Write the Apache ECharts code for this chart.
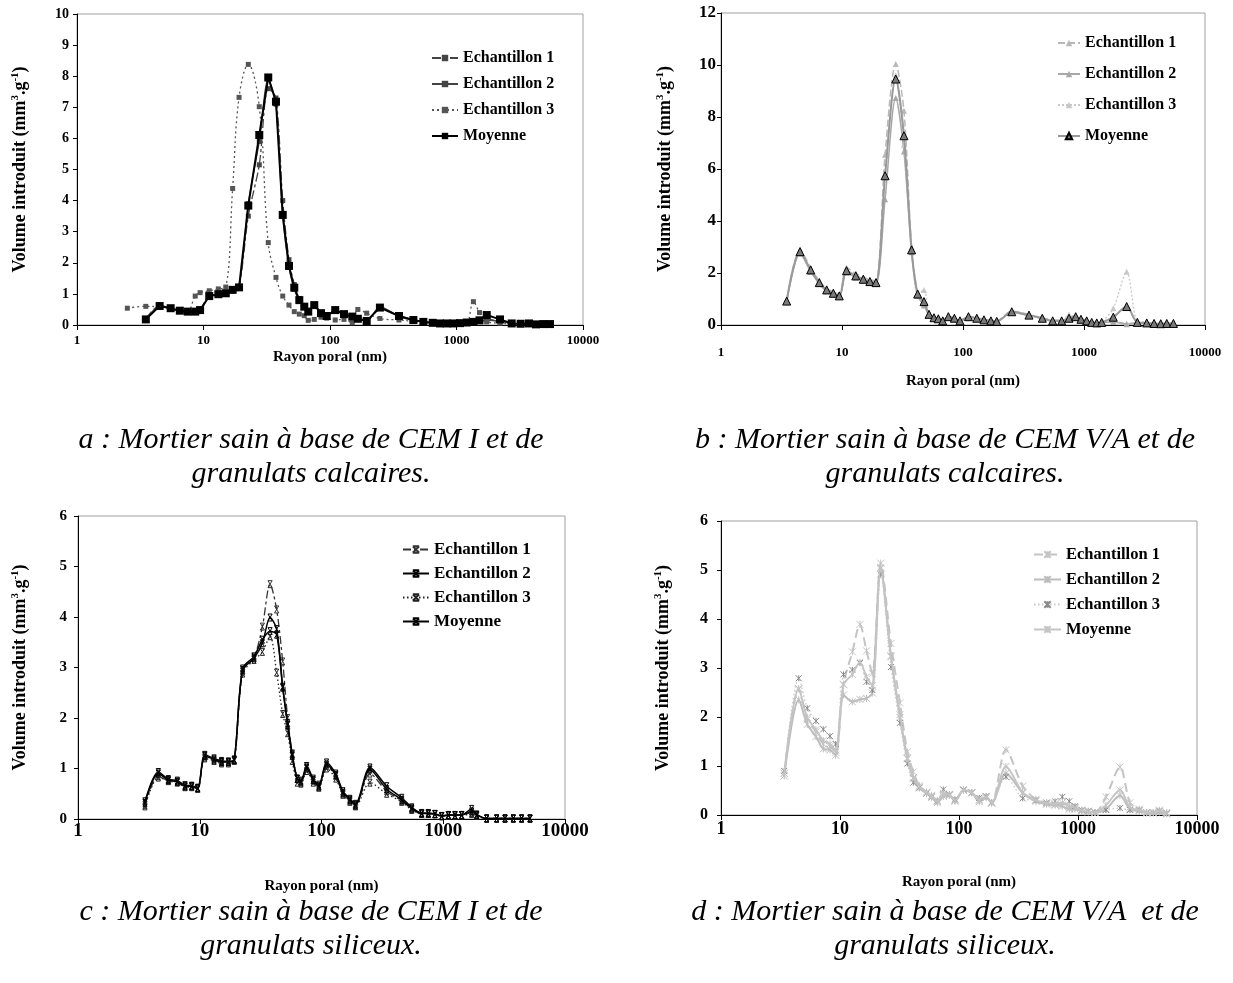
<!DOCTYPE html>
<html><head><meta charset="utf-8">
<script src="https://cdn.jsdelivr.net/npm/echarts@6/dist/echarts.min.js"></script>
<style>html,body{margin:0;padding:0;background:#fff}#c{width:1233px;height:983px}</style>
</head><body><div id="c"></div>
<script>
// ---------- DATA ----------
const seriesNames = ['Echantillon 1', 'Echantillon 2', 'Echantillon 3', 'Moyenne'];
const xTickLabels = ['1', '10', '100', '1000', '10000'];
const xTitle = 'Rayon poral (nm)';
const captions = [
  'a : Mortier sain à base de CEM I et de\ngranulats calcaires.',
  'b : Mortier sain à base de CEM V/A et de\ngranulats calcaires.',
  'c : Mortier sain à base de CEM I et de\ngranulats siliceux.',
  'd : Mortier sain à base de CEM V/A  et de\ngranulats siliceux.'
];

// Panel a (CEM I, calcaires)
const a_r = [2.5, 3.5, 4.5, 5.5, 6.5, 7.5, 8.6, 9.4, 11.1, 13.1, 15.0, 17.0, 19.1, 22.6, 27.6, 32.5, 37.4, 42.3, 47.4, 52.2, 57.2, 62.6, 67.3, 75.1, 84.9, 94.2, 110, 129, 150, 166, 195, 248, 351, 456, 547, 649, 741, 837, 944, 1066, 1205, 1360, 1520, 1734, 2208, 2731, 3214, 3740, 4249, 4853, 5483];
const a_e1 = [null, 0.2, 0.62, 0.55, 0.48, 0.44, 0.44, 0.5, 0.95, 1.0, 1.04, 1.14, 1.22, 3.5, 5.15, 7.6, 7.3, 4.0, 2.1, 1.3, 0.85, 0.62, 0.45, 0.6, 0.4, 0.3, 0.45, 0.36, 0.28, 0.22, 0.15, 0.55, 0.3, 0.17, 0.11, 0.08, 0.06, 0.06, 0.06, 0.07, 0.08, 0.1, 0.18, 0.2, 0.1, 0.05, 0.04, 0.05, 0.02, 0.03, 0.03];
const a_e2 = [null, 0.16, 0.6, 0.52, 0.45, 0.42, 0.43, 0.46, 0.9, 0.97, 1.0, 1.1, 1.2, 3.9, 5.9, 7.9, 7.1, 3.5, 1.85, 1.15, 0.78, 0.57, 0.42, 0.66, 0.37, 0.28, 0.5, 0.34, 0.26, 0.19, 0.12, 0.58, 0.28, 0.15, 0.1, 0.07, 0.05, 0.05, 0.05, 0.06, 0.08, 0.1, 0.12, 0.15, 0.12, 0.05, 0.04, 0.05, 0.02, 0.03, 0.03];
const a_e3 = [0.54, 0.6, 0.58, 0.5, 0.44, 0.45, 0.93, 1.04, 1.1, 1.16, 1.22, 4.39, 7.32, 8.38, 7.02, 2.65, 1.53, 0.93, 0.64, 0.43, 0.35, 0.3, 0.15, 0.18, 0.25, 0.22, 0.16, 0.18, 0.07, 0.5, 0.38, 0.21, 0.16, 0.12, 0.08, 0.06, 0.05, 0.05, 0.05, 0.06, 0.08, 0.75, 0.4, 0.1, 0.06, 0.04, 0.04, 0.04, 0.02, 0.03, 0.03];
const a_moy = [null, 0.18, 0.61, 0.54, 0.46, 0.43, 0.43, 0.48, 0.93, 0.99, 1.02, 1.13, 1.21, 3.84, 6.11, 7.96, 7.18, 3.54, 1.90, 1.20, 0.80, 0.59, 0.43, 0.64, 0.38, 0.29, 0.48, 0.35, 0.27, 0.2, 0.13, 0.56, 0.29, 0.16, 0.1, 0.07, 0.05, 0.05, 0.05, 0.06, 0.08, 0.1, 0.15, 0.32, 0.18, 0.05, 0.04, 0.05, 0.02, 0.03, 0.03];

// Panel b (CEM V/A, calcaires)
const b_r = [3.49, 4.5, 5.51, 6.49, 7.47, 8.48, 9.5, 10.9, 13.0, 15.0, 17.0, 19.1, 22.7, 27.8, 32.5, 37.6, 42.2, 47.6, 52.4, 57.6, 62.5, 68, 75.7, 84.9, 94.4, 111, 130, 149, 170, 190, 253, 351, 452, 551, 654, 752, 854, 944, 1052, 1158, 1274, 1400, 1746, 2253, 2761, 3300, 3793, 4307, 4830, 5483];
const b_e1 = [0.95, 2.9, 2.2, 1.7, 1.4, 1.28, 1.18, 2.2, 1.98, 1.84, 1.74, 1.7, 6.55, 10.04, 8.24, 3.0, 1.25, 0.8, 0.45, 0.3, 0.26, 0.18, 0.34, 0.28, 0.18, 0.34, 0.28, 0.22, 0.18, 0.16, 0.54, 0.4, 0.28, 0.18, 0.18, 0.3, 0.36, 0.26, 0.18, 0.12, 0.1, 0.1, 0.15, 0.05, 0.08, 0.06, 0.05, 0.04, 0.05, 0.05];
const b_e2 = [0.9, 2.75, 2.05, 1.58, 1.3, 1.18, 1.08, 2.02, 1.82, 1.7, 1.62, 1.58, 4.84, 8.73, 6.67, 2.8, 1.12, 0.75, 0.38, 0.26, 0.22, 0.14, 0.3, 0.24, 0.15, 0.3, 0.25, 0.19, 0.15, 0.13, 0.48, 0.36, 0.24, 0.15, 0.15, 0.24, 0.3, 0.2, 0.15, 0.09, 0.07, 0.08, 0.12, 0.03, 0.08, 0.06, 0.05, 0.04, 0.05, 0.05];
const b_e3 = [0.92, 2.8, 2.1, 1.62, 1.35, 1.2, 1.1, 2.05, 1.87, 1.74, 1.65, 1.61, 5.83, 9.61, 6.93, 2.87, 1.2, 1.35, 0.42, 0.28, 0.24, 0.16, 0.32, 0.26, 0.16, 0.32, 0.26, 0.2, 0.16, 0.14, 0.51, 0.38, 0.26, 0.16, 0.16, 0.4, 0.3, 0.22, 0.16, 0.1, 0.08, 0.12, 0.64, 2.05, 0.14, 0.1, 0.07, 0.06, 0.07, 0.07];
const b_moy = [0.92, 2.82, 2.12, 1.63, 1.35, 1.22, 1.12, 2.09, 1.89, 1.76, 1.67, 1.63, 5.74, 9.46, 7.28, 2.89, 1.19, 0.90, 0.41, 0.28, 0.24, 0.16, 0.32, 0.26, 0.16, 0.32, 0.26, 0.2, 0.16, 0.14, 0.51, 0.38, 0.26, 0.16, 0.16, 0.26, 0.32, 0.22, 0.16, 0.1, 0.08, 0.1, 0.3, 0.71, 0.1, 0.08, 0.06, 0.05, 0.06, 0.06];

// Panel c (CEM I, siliceux)
const c_r = [3.55, 4.57, 5.52, 6.54, 7.57, 8.59, 9.62, 11.0, 13.1, 15.1, 17.2, 19.2, 22.5, 27.9, 32.7, 37.8, 42.8, 48.0, 52.7, 57.5, 63.2, 67.8, 75.5, 85.5, 95.1, 110, 131, 150, 171, 190, 250, 343, 456, 551, 665, 754, 855, 971, 1101, 1249, 1417, 1712, 1884, 2275, 2748, 3216, 3760, 4404, 5160];
const c_e1 = [0.28, 0.85, 0.75, 0.72, 0.64, 0.63, 0.6, 1.22, 1.16, 1.12, 1.12, 1.15, 2.92, 3.2, 3.81, 4.65, 4.15, 3.12, 2.0, 1.3, 0.8, 0.72, 1.0, 0.76, 0.63, 1.05, 0.85, 0.5, 0.36, 0.26, 0.9, 0.55, 0.36, 0.2, 0.1, 0.1, 0.1, 0.06, 0.07, 0.07, 0.08, 0.12, 0.07, 0.01, 0.01, 0.01, 0.01, 0.01, 0.01];
const c_e2 = [0.35, 0.93, 0.79, 0.76, 0.67, 0.66, 0.62, 1.27, 1.2, 1.15, 1.14, 1.18, 2.98, 3.22, 3.55, 3.72, 3.65, 2.6, 1.9, 1.28, 0.8, 0.76, 1.05, 0.8, 0.68, 1.12, 0.9, 0.55, 0.4, 0.3, 1.02, 0.65, 0.42, 0.23, 0.12, 0.12, 0.1, 0.06, 0.08, 0.08, 0.08, 0.2, 0.09, 0.01, 0.01, 0.01, 0.01, 0.01, 0.01];
const c_e3 = [0.25, 0.82, 0.76, 0.73, 0.63, 0.64, 0.6, 1.2, 1.15, 1.1, 1.1, 1.16, 2.88, 3.15, 3.31, 3.62, 2.9, 2.08, 1.7, 1.15, 0.72, 0.7, 0.95, 0.72, 0.62, 1.0, 0.8, 0.48, 0.34, 0.25, 0.72, 0.5, 0.34, 0.18, 0.1, 0.1, 0.09, 0.05, 0.07, 0.07, 0.07, 0.1, 0.06, 0.01, 0.01, 0.01, 0.01, 0.01, 0.01];
const c_moy = [0.32, 0.90, 0.77, 0.74, 0.65, 0.65, 0.61, 1.25, 1.18, 1.13, 1.13, 1.17, 2.95, 3.18, 3.48, 3.99, 3.76, 2.62, 1.86, 1.25, 0.79, 0.74, 1.02, 0.77, 0.65, 1.08, 0.87, 0.52, 0.38, 0.28, 0.98, 0.59, 0.38, 0.21, 0.11, 0.11, 0.1, 0.06, 0.08, 0.08, 0.08, 0.15, 0.08, 0.01, 0.01, 0.01, 0.01, 0.01, 0.01];

// Panel d (CEM V/A, siliceux)
const d_r = [3.40, 4.5, 5.31, 6.28, 7.24, 8.24, 9.2, 10.7, 12.7, 14.7, 16.7, 18.7, 22.0, 26.8, 31.9, 36.8, 41.3, 46.4, 53.4, 58.9, 65.7, 73.8, 83, 92.5, 109, 128, 148, 169, 188, 248, 343, 443, 545, 641, 738, 845, 944, 1075, 1222, 1390, 1718, 2253, 2735, 3273, 3776, 4295, 4823, 5559];
const d_e1 = [0.85, 2.58, 1.95, 1.7, 1.45, 1.4, 1.28, 2.67, 3.33, 3.89, 3.35, 2.89, 5.14, 3.5, 2.29, 1.29, 0.88, 0.6, 0.47, 0.4, 0.3, 0.42, 0.42, 0.3, 0.5, 0.45, 0.3, 0.35, 0.25, 1.33, 0.59, 0.32, 0.25, 0.22, 0.2, 0.15, 0.15, 0.1, 0.08, 0.05, 0.37, 0.98, 0.25, 0.12, 0.05, 0.05, 0.1, 0.05];
const d_e2 = [0.8, 2.35, 1.85, 1.6, 1.35, 1.33, 1.22, 2.45, 2.31, 2.36, 2.38, 2.49, 5.05, 3.23, 1.99, 1.15, 0.75, 0.55, 0.44, 0.36, 0.25, 0.38, 0.4, 0.28, 0.5, 0.46, 0.27, 0.38, 0.24, 0.85, 0.45, 0.28, 0.22, 0.2, 0.18, 0.12, 0.12, 0.08, 0.06, 0.05, 0.12, 0.4, 0.12, 0.08, 0.04, 0.04, 0.06, 0.02];
const d_e3 = [0.9, 2.79, 2.18, 1.92, 1.75, 1.61, 1.45, 2.87, 2.96, 3.1, 2.72, 2.55, 4.91, 3.02, 1.88, 1.05, 0.66, 0.56, 0.44, 0.38, 0.28, 0.52, 0.42, 0.32, 0.52, 0.46, 0.35, 0.38, 0.26, 0.78, 0.34, 0.3, 0.25, 0.28, 0.37, 0.28, 0.18, 0.1, 0.08, 0.05, 0.1, 0.14, 0.1, 0.1, 0.05, 0.05, 0.08, 0.03];
const d_moy = [0.85, 2.57, 1.99, 1.74, 1.52, 1.45, 1.32, 2.66, 2.87, 3.12, 2.82, 2.64, 5.03, 3.25, 2.05, 1.16, 0.76, 0.57, 0.45, 0.38, 0.28, 0.44, 0.41, 0.3, 0.51, 0.46, 0.31, 0.37, 0.25, 0.99, 0.46, 0.3, 0.24, 0.23, 0.25, 0.18, 0.15, 0.09, 0.07, 0.05, 0.2, 0.51, 0.16, 0.1, 0.05, 0.05, 0.08, 0.03];

// ---------- CHART ----------
const FONT = 'Liberation Serif';
const zip = (xs, ys) => xs.map((x, i) => [x, ys[i]]);
const SYM_X = 'path://M2,0L8,0M2,10L8,10M2,0L8,10M8,0L2,10';
const SYM_STAR = 'path://M0,0L10,10M10,0L0,10M5,0L5,10';

const panels = [
  { grid: {left: 77, top: 14, width: 506, height: 311}, ymax: 10, yint: 1,
    xFont: 13, xMargin: 9, xGap: 25, yFont: 14, yMargin: 8, yGap: 47,
    legend: {left: 431, top: 50, itemWidth: 26, itemGap: 10, fontSize: 16},
    data: [a_e1, a_e2, a_e3, a_moy], r: a_r,
    styles: [
      {color: '#444', type: [9, 3, 3, 3], width: 1.3, symbol: 'rect', size: 5, smooth: 0.3},
      {color: '#444', type: 'solid', width: 1.3, symbol: 'rect', size: 5, smooth: 0.3},
      {color: '#555', type: [2, 3], width: 1.3, symbol: 'rect', size: 5, smooth: 0.4},
      {color: '#000', type: 'solid', width: 2, symbol: 'rect', size: 8, smooth: 0}
    ]},
  { grid: {left: 721, top: 13, width: 484, height: 312}, ymax: 12, yint: 2,
    xFont: 13, xMargin: 21, xGap: 49, yFont: 17, yMargin: 5, yGap: 46,
    legend: {left: 1057, top: 35, itemWidth: 22, itemGap: 15, fontSize: 16},
    data: [b_e1, b_e2, b_e3, b_moy], r: b_r,
    styles: [
      {color: '#b8b8b8', type: [7, 3], width: 1.5, symbol: 'triangle', size: 6, smooth: 0.3},
      {color: '#a8a8a8', type: 'solid', width: 1.5, symbol: 'triangle', size: 6, smooth: 0.3},
      {color: '#c8c8c8', type: [2, 2], width: 1.3, symbol: 'triangle', size: 6, smooth: 0.3},
      {color: '#999', type: 'solid', width: 2, symbol: 'triangle', size: 8, smooth: 0.3, fill: '#7a7a7a', border: '#000'}
    ]},
  { grid: {left: 78, top: 516, width: 487, height: 303}, ymax: 6, yint: 1,
    xFont: 19, xMargin: 3, xGap: 60, yFont: 15, yMargin: 11, yGap: 48,
    legend: {left: 402, top: 541, itemWidth: 26, itemGap: 7, fontSize: 17},
    data: [c_e1, c_e2, c_e3, c_moy], r: c_r,
    styles: [
      {color: '#333', type: [8, 3, 3, 3], width: 1.3, symbol: SYM_X, size: 7, smooth: 0.3, stroke: true},
      {color: '#000', type: 'solid', width: 1.5, symbol: SYM_X, size: 7, smooth: 0.3, stroke: true},
      {color: '#222', type: [1.5, 2.5], width: 1.3, symbol: SYM_X, size: 7, smooth: 0.3, stroke: true},
      {color: '#000', type: 'solid', width: 1.5, symbol: SYM_X, size: 7, smooth: 0.3, stroke: true}
    ]},
  { grid: {left: 721, top: 521, width: 476, height: 294}, ymax: 6, yint: 1,
    xFont: 18, xMargin: 5, xGap: 60, yFont: 16, yMargin: 13, yGap: 48,
    legend: {left: 1033, top: 546, itemWidth: 27, itemGap: 8, fontSize: 16.5},
    data: [d_e1, d_e2, d_e3, d_moy], r: d_r,
    styles: [
      {color: '#c4c4c4', type: [9, 5], width: 2, symbol: SYM_STAR, size: 7, smooth: 0.3, stroke: true},
      {color: '#bdbdbd', type: 'solid', width: 2, symbol: SYM_STAR, size: 7, smooth: 0.3, stroke: true},
      {color: '#c8c8c8', type: [1.5, 2.5], width: 1.3, symbol: SYM_STAR, size: 6, smooth: 0.3, stroke: true, mark: '#8a8a8a'},
      {color: '#c4c4c4', type: 'solid', width: 1.8, symbol: SYM_STAR, size: 7, smooth: 0.3, stroke: true}
    ]}
];

const captionPos = [[311, 423], [945, 423], [311, 895], [945, 895]];

const option = {
  animation: false,
  backgroundColor: '#fff',
  title: captions.map((t, i) => ({
    text: t, left: captionPos[i][0], top: captionPos[i][1], textAlign: 'center', padding: 0,
    textStyle: {fontFamily: FONT, fontStyle: 'italic', fontWeight: 'normal', fontSize: 30, lineHeight: 34, color: '#000'}
  })),
  grid: panels.map(p => Object.assign({show: true, borderColor: '#a0a0a0', borderWidth: 1, containLabel: false}, p.grid)),
  xAxis: panels.map((p, i) => ({
    type: 'log', logBase: 10, min: 1, max: 10000, gridIndex: i,
    axisLine: {show: true, onZero: false, lineStyle: {color: '#000', width: 1}},
    axisTick: {show: true, inside: false, length: 5, lineStyle: {color: '#000'}},
    minorTick: {show: false}, splitLine: {show: false},
    axisLabel: {formatter: v => xTickLabels[Math.round(Math.log10(v))], fontFamily: FONT, fontWeight: 'bold', fontSize: p.xFont, color: '#000', margin: p.xMargin},
    name: xTitle, nameLocation: 'middle', nameGap: p.xGap,
    nameTextStyle: {fontFamily: FONT, fontWeight: 'bold', fontSize: 15, color: '#000'}
  })),
  yAxis: panels.map((p, i) => ({
    type: 'value', min: 0, max: p.ymax, interval: p.yint, gridIndex: i,
    axisLine: {show: true, onZero: false, lineStyle: {color: '#000', width: 1}},
    axisTick: {show: true, inside: false, length: 4, lineStyle: {color: '#000'}},
    splitLine: {show: false},
    axisLabel: {fontFamily: FONT, fontWeight: 'bold', fontSize: p.yFont, color: '#000', margin: p.yMargin},
    name: '{t|Volume introduit (mm}{s|3}{t|.g}{s|-1}{t|)}', nameLocation: 'middle', nameGap: p.yGap, nameRotate: 90,
    nameTextStyle: {
      rich: {
        t: {fontFamily: FONT, fontWeight: 'bold', fontSize: 18, color: '#000', lineHeight: 20},
        s: {fontFamily: FONT, fontWeight: 'bold', fontSize: 11, color: '#000', verticalAlign: 'top', lineHeight: 20}
      }
    }
  })),
  legend: panels.map((p, i) => ({
    orient: 'vertical', left: p.legend.left, top: p.legend.top, padding: 0,
    itemWidth: p.legend.itemWidth, itemHeight: 8, itemGap: p.legend.itemGap,
    data: seriesNames.map(n => n + ' #' + i),
    formatter: name => name.replace(/ #\d$/, ''),
    selectedMode: false,
    textStyle: {fontFamily: FONT, fontWeight: 'bold', fontSize: p.legend.fontSize, color: '#000', padding: [0, 0, 0, 0]}
  })),
  series: []
};

panels.forEach((p, i) => {
  p.data.forEach((ys, k) => {
    const s = p.styles[k];
    const itemStyle = s.stroke
      ? {color: 'rgba(0,0,0,0)', borderColor: s.mark || s.color, borderWidth: 1}
      : {color: s.fill || s.color, borderColor: s.border || s.fill || s.color, borderWidth: s.border ? 1 : 0};
    option.series.push({
      type: 'line', name: seriesNames[k] + ' #' + i,
      xAxisIndex: i, yAxisIndex: i,
      data: zip(p.r, ys),
      smooth: s.smooth, showAllSymbol: true,
      symbol: s.symbol, symbolSize: s.size, symbolKeepAspect: true,
      lineStyle: {color: s.color, width: s.width, type: s.type},
      itemStyle: itemStyle,
      z: k === 3 ? 5 : 3,
      emphasis: {disabled: true}
    });
  });
});

const chart = echarts.init(document.getElementById('c'), null, {renderer: 'canvas'});
chart.setOption(option);
</script>
</body></html>
